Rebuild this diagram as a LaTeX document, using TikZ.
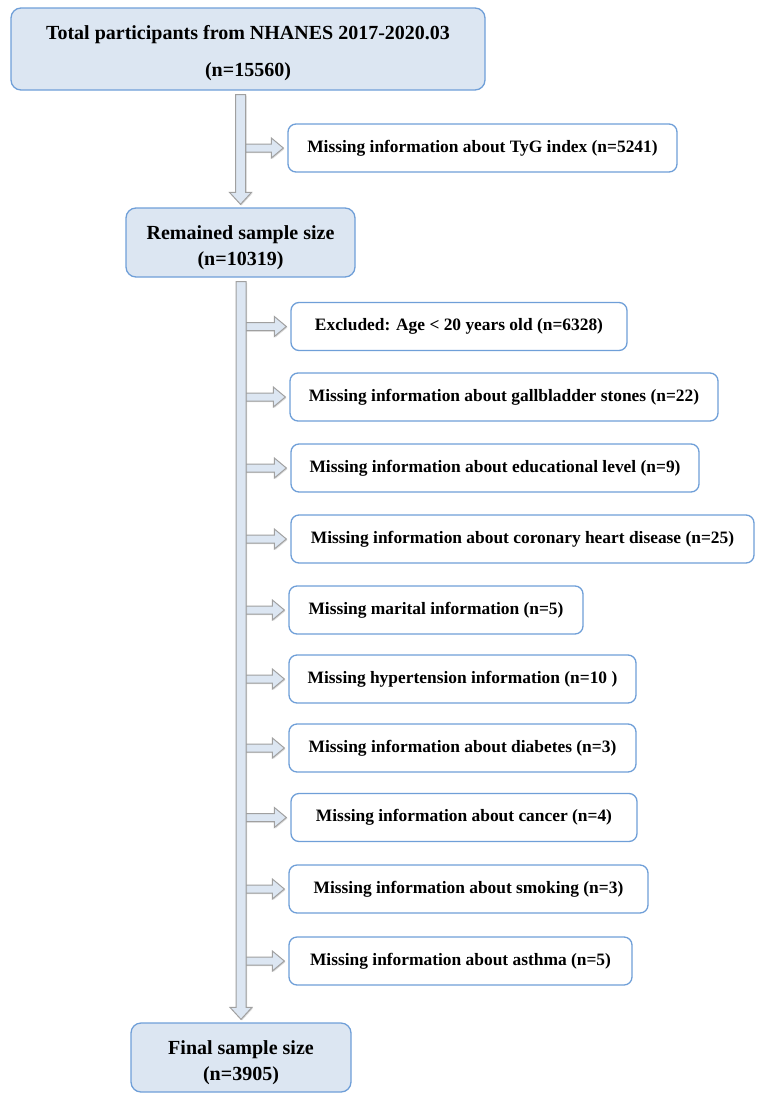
\documentclass[tikz,border=0pt]{standalone}
\usepackage{fontspec}
\setmainfont{Liberation Serif}
\usetikzlibrary{calc,shadows}
\definecolor{boxfill}{HTML}{DCE6F2}
\definecolor{boxline}{HTML}{6F9FD8}
\definecolor{arrfill}{HTML}{DCE6F2}
\definecolor{arrline}{HTML}{A0A0A0}
\tikzset{
  mainbox/.style={draw=boxline, fill=boxfill, line width=1.3pt, rounded corners=10pt,
    align=center, inner sep=0pt, font=\fontsize{20}{26}\selectfont\bfseries},
  sidebox/.style={draw=boxline, fill=white, line width=1.3pt, rounded corners=8pt,
    minimum height=48pt, inner sep=0pt, font=\fontsize{17.4}{20}\selectfont\bfseries},
  fatarrow/.style={draw=arrline, fill=arrfill, line width=1pt, line join=miter,
    drop shadow={opacity=0.3, shadow xshift=1pt, shadow yshift=-1pt}},
}
% vertical fat arrow from node #1 (south) to node #2 (north)
\newcommand\fatdown[2]{%
  \path[fatarrow] let \p1=(#1.south), \p2=(#2.north) in
    (\x2-5pt,\y1-4pt) -- (\x2+5pt,\y1-4pt) -- (\x2+5pt,\y2+15pt) -- (\x2+11pt,\y2+15pt)
    -- (\x2,\y2+3pt) -- (\x2-11pt,\y2+15pt) -- (\x2-5pt,\y2+15pt) -- cycle;}
% side fat arrow from the bar (x of node #1) to node #2 (west)
\newcommand\sidearrow[2]{%
  \path[fatarrow] let \p1=(#1), \p2=(#2.west) in
    (\x1,\y2+4pt) -- (\x2-16pt,\y2+4pt) -- (\x2-16pt,\y2+10pt) -- (\x2-4pt,\y2)
    -- (\x2-16pt,\y2-10pt) -- (\x2-16pt,\y2-4pt) -- (\x1,\y2-4pt) -- cycle;}
\begin{document}
\begin{tikzpicture}[x=1pt,y=-1pt]
\useasboundingbox (0,0) rectangle (763,1100);

\node[mainbox, minimum width=474pt, minimum height=82pt,
      font=\fontsize{20}{37}\selectfont\bfseries] (total) at (248,49)
  {\rule{0pt}{21.5pt}Total participants from NHANES 2017-2020.03\\(n=15560)};
\node[mainbox, minimum width=229pt, minimum height=69pt] (remain) at (240.5,242.5)
  {\rule{0pt}{25pt}Remained sample size\\(n=10319)};
\node[mainbox, minimum width=220pt, minimum height=69pt] (final) at (241,1057.5)
  {\rule{0pt}{25pt}Final sample size\\(n=3905)};

\node[sidebox, minimum width=389pt] (tyg)  at (482.5,148) {Missing information about TyG index (n=5241)};
\node[sidebox, minimum width=336pt] (excl) at (459,326.5) {Excluded: Age < 20 years old (n=6328)};
\node[sidebox, minimum width=428pt] (gall) at (504,397)   {Missing information about gallbladder stones (n=22)};
\node[sidebox, minimum width=408pt] (edu)  at (495,468)   {Missing information about educational level (n=9)};
\node[sidebox, minimum width=463pt] (cor)  at (522.5,539) {Missing information about coronary heart disease (n=25)};
\node[sidebox, minimum width=294pt] (mar)  at (436,610)   {Missing marital information (n=5)};
\node[sidebox, minimum width=347pt] (hyp)  at (462.5,679) {Missing hypertension information (n=10 )};
\node[sidebox, minimum width=347pt] (dia)  at (462.5,748) {Missing information about diabetes (n=3)};
\node[sidebox, minimum width=346pt] (can)  at (464,817.5) {Missing information about cancer (n=4)};
\node[sidebox, minimum width=359pt] (smo)  at (468.5,889) {Missing information about smoking (n=3)};
\node[sidebox, minimum width=343pt] (ast)  at (460.5,961) {Missing information about asthma (n=5)};

\sidearrow{remain.north}{tyg}
\fatdown{total}{remain}

\foreach \b in {excl,gall,edu,cor,mar,hyp,dia,can,smo,ast}{\sidearrow{final.north}{\b}}
\fatdown{remain}{final}
\end{tikzpicture}
\end{document}
